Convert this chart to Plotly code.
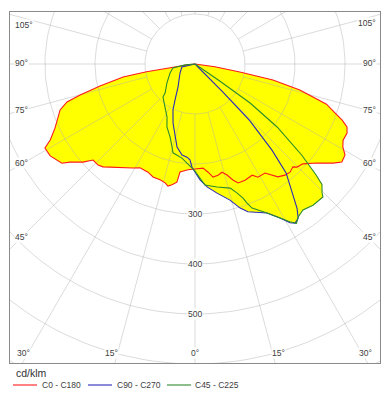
import numpy as np
import plotly.graph_objects as go

# ---------------- data (gamma in degrees, intensity in cd/klm) ----------------
red_left_gamma = [0, 3.8, 7.9, 8.7, 10.8, 12.5, 14.1, 16.8, 20.4, 23.5, 27.9, 30.8, 35.8, 41.8, 43.8,
                  46.7, 48.8, 51.9, 53.3, 57.6, 60.75, 62.3, 65.4, 68.9, 71.2, 73.5, 74.9, 77.0,
                  79.8, 80.9, 81.5, 85, 90]
red_left_cd = [210, 212, 218, 239, 246, 250, 245, 242, 241, 236, 235, 242, 256, 276, 280,
               280, 298, 318, 332, 343, 344, 327, 308, 294, 285, 267, 238, 195,
               146, 98, 44, 10, 0]

red_right_gamma = [0, 4.4, 6.9, 9.05, 11.7, 14.0, 16.1, 18.1, 19.9, 23.3, 27.2, 29.1, 32.7, 34.75,
                   36.3, 39.0, 41.3, 43.6, 44.7, 47.2, 50.9, 54.35, 56.3, 58.75, 60.7, 62.8,
                   65.6, 67.5, 69.1, 70.7, 73.0, 76.1, 78.4, 79.9, 82, 90]
red_right_cd = [210, 209, 218, 229, 227, 223, 231, 244, 253, 253, 250, 259, 259, 270,
                280, 286, 288, 284, 290, 294, 314, 340, 353, 351, 339, 333,
                334, 329, 315, 297, 275, 216, 159, 91, 40, 0]

blue_left_gamma = [0, 1.7, 3.0, 4.9, 8.1, 12.2, 15.3, 20.4, 25.6, 29.1, 36.5, 59, 77, 90]
blue_left_cd = [216, 206, 192, 187, 184, 170, 151, 126, 102, 82, 57, 35, 27, 0]

blue_right_gamma = [0, 2.5, 5.6, 9.7, 14.4, 17.4, 19.7, 21.4, 25.8, 28.9, 30.9, 32.2, 33.8,
                    35.3, 36.8, 39.9, 41.8, 44.0, 44.8, 45.5]
blue_right_cd = [216, 232, 247, 262, 281, 302, 314, 318, 331, 352, 370, 376, 371,
                 353, 327, 284, 231, 157, 80, 0]

green_left_gamma = [0, 4.6, 7.9, 13.9, 15.5, 18.9, 24.0, 27.8, 34.9, 44.1, 46.0, 55.8, 70.2,
                    79.7, 85, 90]
green_left_cd = [214, 199, 190, 183, 172, 154, 138, 120, 105, 92, 83, 68, 53,
                 45, 20, 0]

green_right_gamma = [0, 4.7, 10.1, 15.8, 18.0, 19.7, 20.5, 21.6, 25.8, 28.9, 31.0, 32.5, 34.0,
                     36.5, 39.9, 43.9, 44.6, 46.5, 47.5, 49.5, 52.5, 54.7, 55.5, 56]
green_right_cd = [214, 243, 250, 258, 271, 285, 297, 310, 331, 352, 368, 378, 369,
                  363, 368, 369, 362, 350, 328, 281, 207, 135, 60, 0]

series_names = ["C0 - C180", "C90 - C270", "C45 - C225"]
series_colors = ["#ff1a1a", "#2b2bb8", "#2e8b2e"]

circle_values = [100, 200, 300, 400, 500, 600, 700, 800]
radial_labels = [300, 400, 500]
angle_step = 15

# ---------------- geometry helpers ----------------
def curve_xy(gl, rl, gr, rr):
    gl = np.radians(np.array(gl, float)); rl = np.array(rl, float)
    gr = np.radians(np.array(gr, float)); rr = np.array(rr, float)
    xl, yl = -rl * np.sin(gl), -rl * np.cos(gl)
    xr, yr = rr * np.sin(gr), -rr * np.cos(gr)
    return np.concatenate([xl[::-1], xr]), np.concatenate([yl[::-1], yr])

curves = [
    curve_xy(red_left_gamma, red_left_cd, red_right_gamma, red_right_cd),
    curve_xy(blue_left_gamma, blue_left_cd, blue_right_gamma, blue_right_cd),
    curve_xy(green_left_gamma, green_left_cd, green_right_gamma, green_right_cd),
]

fig = go.Figure()

# yellow union fill
for x, y in curves:
    fig.add_trace(go.Scatter(x=x, y=y, mode="lines", fill="toself", fillcolor="#ffff00",
                             line=dict(width=0, color="#ffff00"), hoverinfo="skip",
                             showlegend=False))

# grid (drawn above the fill)
gx, gy = [], []
t = np.radians(np.arange(0, 361, 2))
for r in circle_values:
    gx += list(r * np.sin(t)) + [None]
    gy += list(r * np.cos(t)) + [None]
for a in np.arange(0, 360, angle_step):
    ar = np.radians(a)
    gx += [100 * np.sin(ar), 1000 * np.sin(ar), None]
    gy += [-100 * np.cos(ar), -1000 * np.cos(ar), None]
fig.add_trace(go.Scatter(x=gx, y=gy, mode="lines",
                         line=dict(color="rgba(175,175,175,0.45)", width=1),
                         hoverinfo="skip", showlegend=False))

# curves
for (x, y), name, col in zip(curves, series_names, series_colors):
    fig.add_trace(go.Scatter(x=x, y=y, mode="lines", name=name,
                             line=dict(color=col, width=1.1), showlegend=False))

# ---------------- layout ----------------
W, H = 391, 397
L, R, T, B = 10, 11, 12, 34
CX, CY = 195, 64          # pixel centre of diagram
S = 2.0                   # cd/klm per pixel

def px2data(px, py):
    return (px - CX) * S, (CY - py) * S

def px2paper(px, py):
    return (px - L) / (W - L - R), (H - B - py) / (H - T - B)

font_lbl = dict(family="Liberation Sans, Arial, sans-serif", size=8.5, color="#404040")
ann = []
side_labels = [(105, 25), (90, 63), (75, 110), (60, 163), (45, 237)]
for ang, py in side_labels:
    xd, yd = px2data(14, py)
    ann.append(dict(x=xd, y=yd, text=f"{ang}°", showarrow=False, xanchor="left",
                    yanchor="middle", font=font_lbl, bgcolor="white", borderpad=0))
    xd, yd = px2data(377, py - (2 if ang == 105 else 0))
    ann.append(dict(x=xd, y=yd, text=f"{ang}°", showarrow=False, xanchor="right",
                    yanchor="middle", font=font_lbl, bgcolor="white", borderpad=0))
bottom_labels = [(30, 23.5), (15, 111.5), (0, 195), (15, 278.5), (30, 365)]
for ang, px in bottom_labels:
    xd, yd = px2data(px, 353)
    ann.append(dict(x=xd, y=yd, text=f"{ang}°", showarrow=False, xanchor="center",
                    yanchor="middle", font=font_lbl, bgcolor="white", borderpad=0))
for v in radial_labels:
    ann.append(dict(x=0, y=-v, text=str(v), showarrow=False, xanchor="center",
                    yanchor="middle", font=font_lbl, bgcolor="white", borderpad=0))

# legend (drawn manually below the frame)
px_, py_ = px2paper(14, 373)
ann.append(dict(x=px_, y=py_, xref="paper", yref="paper", text="cd/klm", showarrow=False,
                xanchor="left", yanchor="middle",
                font=dict(family="Liberation Sans, Arial, sans-serif", size=10.5, color="#303030")))
shapes = []
leg_x = [(13, 37, 40), (88, 112, 115), (167, 191, 193)]
for (x0, x1, xt), name, col in zip(leg_x, series_names, series_colors):
    a0, b0 = px2paper(x0, 385)
    a1, _ = px2paper(x1, 385)
    shapes.append(dict(type="line", xref="paper", yref="paper", x0=a0, x1=a1, y0=b0, y1=b0,
                       line=dict(color=col, width=1.1)))
    at, bt = px2paper(xt, 385)
    ann.append(dict(x=at, y=bt, xref="paper", yref="paper", text=name, showarrow=False,
                    xanchor="left", yanchor="middle", font=font_lbl))

fig.update_layout(
    width=W, height=H, margin=dict(l=L, r=R, t=T, b=B, pad=0),
    paper_bgcolor="white", plot_bgcolor="white",
    xaxis=dict(range=[(L - CX) * S, (W - R - CX) * S], showgrid=False, zeroline=False,
               showticklabels=False, ticks="", showline=True, mirror=True,
               linecolor="#8a8a8a", linewidth=1, fixedrange=True),
    yaxis=dict(range=[(CY - (H - B)) * S, (CY - T) * S], showgrid=False, zeroline=False,
               showticklabels=False, ticks="", showline=True, mirror=True,
               linecolor="#8a8a8a", linewidth=1, fixedrange=True),
    annotations=ann, shapes=shapes, showlegend=False,
)

fig.write_html("out.html", config={"displayModeBar": False},
               post_script="document.body.style.margin='0';document.body.style.overflow='hidden';")
